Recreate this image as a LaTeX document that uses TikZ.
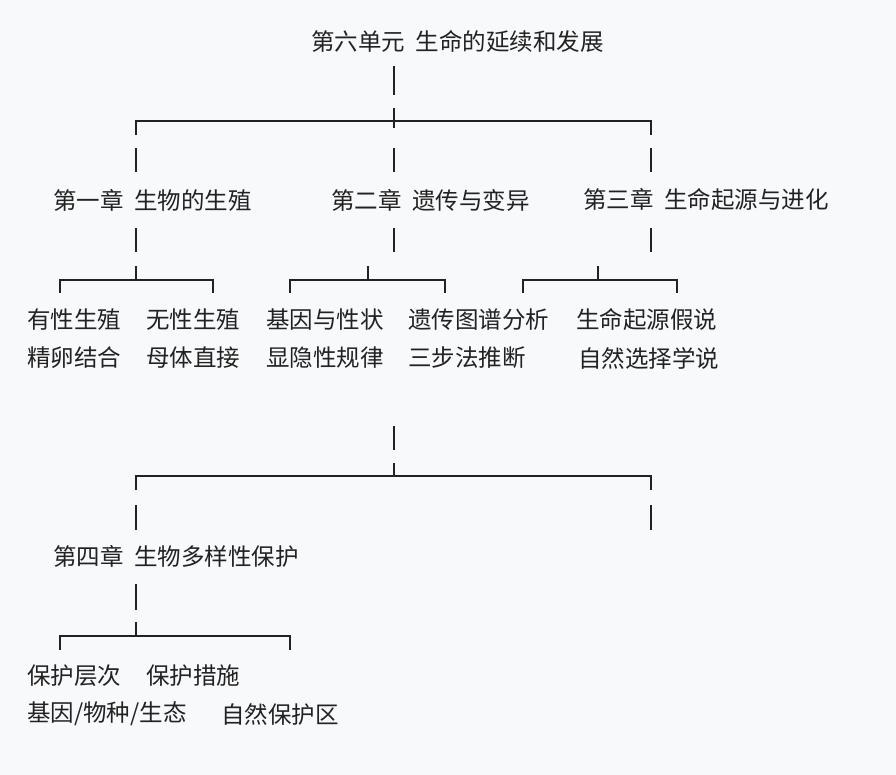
\documentclass[tikz,border=0pt]{standalone}
\usepackage{fontspec}
\setmainfont{Noto Sans CJK SC}
\definecolor{bgcol}{HTML}{F8F9FB}
\definecolor{inkcol}{HTML}{222222}
\begin{document}
\begin{tikzpicture}[x=1pt,y=-1pt,
	txt/.style = {anchor=west, inner sep=0pt, text=inkcol, font=\fontsize{23.5}{27}\selectfont},
	ln/.style = {draw=inkcol, line width=1.3pt}]
	\fill[bgcol] (0,0) rectangle (896,775);
	\useasboundingbox (0,0) rectangle (896,775);
	% titles
	\node[txt] (unit) at (311,42) {第六单元\ \ 生命的延续和发展};
	\node[txt] (ch1) at (53,200) {第一章\ \ 生物的生殖};
	\node[txt] (ch2) at (331,200) {第二章\ \ 遗传与变异};
	\node[txt] (ch3) at (583,200) {第三章\ \ 生命起源与进化};
	\node[txt] (ch4) at (53,556) {第四章\ \ 生物多样性保护};
	% leaves
	\node[txt] (a1) at (27,320) {有性生殖};
	\node[txt] (a2) at (146,320) {无性生殖};
	\node[txt] (b1) at (266,320) {基因与性状};
	\node[txt] (b2) at (408,320) {遗传图谱分析};
	\node[txt] (c1) at (576,320) {生命起源假说};
	\node[txt] (a3) at (27,358) {精卵结合};
	\node[txt] (a4) at (146,358) {母体直接};
	\node[txt] (b3) at (266,358) {显隐性规律};
	\node[txt] (b4) at (408,358) {三步法推断};
	\node[txt] (c2) at (578,358) {自然选择学说};
	\node[txt] (d1) at (27,676) {保护层次};
	\node[txt] (d2) at (146,676) {保护措施};
	\node[txt] (d3) at (27,714) {基因/物种/生态};
	\node[txt] (d4) at (221,714) {自然保护区};
	% upper tree
	\draw[ln] (394,66) -- (394,95) (394,108) -- (394,128);
	\draw[ln] (136,135) -- (136,121) -- (651,121) -- (651,135);
	\foreach \x in {136,394,651} {
		\draw[ln] (\x,148) -- (\x,172) (\x,228) -- (\x,252);
	}
	% leaf brackets
	\foreach \m/\l/\r in {136/60/213, 368/290/445, 598/523/677} {
		\draw[ln] (\m,266) -- (\m,280);
		\draw[ln] (\l,293) -- (\l,280) -- (\r,280) -- (\r,293);
	}
	% lower tree
	\draw[ln] (394,426) -- (394,450) (394,463) -- (394,476);
	\draw[ln] (136,490) -- (136,476) -- (651,476) -- (651,490);
	\draw[ln] (136,505) -- (136,530) (651,505) -- (651,530);
	\draw[ln] (136,584) -- (136,610) (136,622) -- (136,636);
	\draw[ln] (60,650) -- (60,636) -- (290,636) -- (290,650);
\end{tikzpicture}
\end{document}
